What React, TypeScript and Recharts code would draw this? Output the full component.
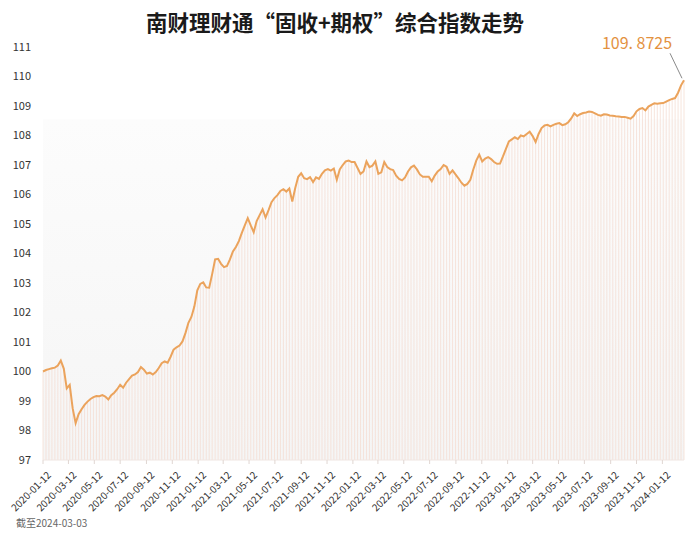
import React from 'react';
import { ComposedChart, Bar, Line, XAxis, YAxis, ReferenceArea } from 'recharts';

const title = '南财理财通“固收+期权”综合指数走势';
const footnote = '截至2024-03-03';
const lastLabel = '109. 8725';

const startDate = '2020-01-12';
const values: number[] = [
  100.00, 100.05, 100.08, 100.11, 100.13, 100.20, 100.37, 100.10, 99.43, 99.55,
  98.75, 98.25, 98.55, 98.72, 98.87, 98.98, 99.07, 99.13, 99.17, 99.16,
  99.20, 99.15, 99.05, 99.20, 99.28, 99.40, 99.55, 99.45, 99.62, 99.74,
  99.86, 99.90, 99.98, 100.15, 100.06, 99.93, 99.96, 99.90, 99.98, 100.12,
  100.28, 100.34, 100.30, 100.50, 100.74, 100.82, 100.88, 101.02, 101.30, 101.65,
  101.85, 102.20, 102.75, 102.97, 103.02, 102.85, 102.84, 103.30, 103.80, 103.82,
  103.65, 103.54, 103.58, 103.80, 104.07, 104.22, 104.42, 104.70, 104.95, 105.20,
  104.95, 104.72, 105.10, 105.30, 105.50, 105.22, 105.47, 105.74, 105.88, 105.98,
  106.12, 106.18, 106.10, 106.20, 105.76, 106.22, 106.60, 106.72, 106.55, 106.52,
  106.59, 106.42, 106.58, 106.53, 106.70, 106.82, 106.86, 106.81, 106.88, 106.50,
  106.85, 107.00, 107.12, 107.15, 107.10, 107.10, 106.90, 106.70, 106.78, 107.12,
  106.93, 106.98, 107.12, 106.70, 106.75, 107.10, 106.93, 106.86, 106.83, 106.64,
  106.53, 106.48, 106.58, 106.78, 106.92, 106.98, 106.85, 106.68, 106.60, 106.60,
  106.60, 106.45, 106.64, 106.78, 106.86, 107.00, 106.94, 106.70, 106.82, 106.68,
  106.55, 106.40, 106.30, 106.36, 106.50, 106.85, 107.15, 107.35, 107.12, 107.22,
  107.27, 107.20, 107.10, 107.04, 107.05, 107.29, 107.55, 107.80, 107.87, 107.94,
  107.88, 108.00, 107.97, 108.05, 108.13, 107.98, 107.78, 108.05, 108.25, 108.34,
  108.36, 108.31, 108.36, 108.40, 108.42, 108.35, 108.38, 108.45, 108.58, 108.75,
  108.66, 108.72, 108.76, 108.78, 108.81, 108.80, 108.75, 108.70, 108.67, 108.72,
  108.71, 108.68, 108.67, 108.65, 108.64, 108.63, 108.63, 108.60, 108.57, 108.66,
  108.82, 108.90, 108.93, 108.85, 108.98, 109.04, 109.09, 109.08, 109.09, 109.10,
  109.15, 109.20, 109.24, 109.27, 109.45, 109.70, 109.8725,
];

const tickLabels: string[] = [
  '2020-01-12', '2020-03-12', '2020-05-12', '2020-07-12', '2020-09-12', '2020-11-12',
  '2021-01-12', '2021-03-12', '2021-05-12', '2021-07-12', '2021-09-12', '2021-11-12',
  '2022-01-12', '2022-03-12', '2022-05-12', '2022-07-12', '2022-09-12', '2022-11-12',
  '2023-01-12', '2023-03-12', '2023-05-12', '2023-07-12', '2023-09-12', '2023-11-12',
  '2024-01-12',
];
const yTicks: number[] = [97, 98, 99, 100, 101, 102, 103, 104, 105, 106, 107, 108, 109, 110, 111];

const DAY = 86400000;
const toTs = (s: string) => {
  const [y, m, d] = s.split('-').map(Number);
  return Date.UTC(y, m - 1, d);
};
const t0 = toTs(startDate);
const data = values.map((v, i) => ({ t: t0 + i * 7 * DAY, v }));
const tEnd = data[data.length - 1].t;
const xTicks = tickLabels.map(toTs);

const fmt = (ts: number) => {
  const d = new Date(ts);
  const p = (n: number) => String(n).padStart(2, '0');
  return `${d.getUTCFullYear()}-${p(d.getUTCMonth() + 1)}-${p(d.getUTCDate())}`;
};

const NUM_FONT = '"Noto Sans CJK SC", "Noto Sans", sans-serif';

const XTick = (props: any) => {
  const { x, y, payload } = props;
  return (
    <g transform={`translate(${x + 2},${y + 3})`}>
      <text
        x={0}
        y={0}
        transform="rotate(-45)"
        textAnchor="end"
        dominantBaseline="hanging"
        fontSize={10}
        fontFamily={NUM_FONT}
        fill="#333"
      >
        {fmt(payload.value)}
      </text>
    </g>
  );
};

const lastIndex = values.length - 1;
const EndLabel = (props: any) => {
  const { x, y, index } = props;
  if (index !== lastIndex) return null;
  return (
    <g>
      <line x1={x - 14} y1={y - 27} x2={x - 2} y2={y - 2} stroke="#8a8a8a" strokeWidth={1} />
      <text
        x={x - 47}
        y={y - 31}
        textAnchor="middle"
        fontSize={16}
        fontFamily={NUM_FONT}
        fill="#E3923F"
      >
        {lastLabel}
      </text>
    </g>
  );
};

export default function App() {
  return (
    <div style={{ position: 'absolute', left: 0, top: 0, width: 700, height: 536, background: '#fff' }}>
      <div
        style={{
          position: 'absolute',
          left: 0,
          top: 8,
          width: 670,
          textAlign: 'center',
          fontFamily: '"Noto Sans CJK SC", sans-serif',
          fontWeight: 700,
          fontSize: 21.5,
          lineHeight: '28px',
          color: '#1a1a1a',
        }}
      >
        {title}
      </div>
      <ComposedChart
        width={700}
        height={536}
        data={data}
        margin={{ top: 47, right: 16, left: 0, bottom: 16 }}
      >
        <defs>
          <linearGradient id="bgGrad" x1="0" y1="0" x2="0" y2="1">
            <stop offset="0%" stopColor="#fcfcfc" />
            <stop offset="100%" stopColor="#f5f5f5" />
          </linearGradient>
        </defs>
        <XAxis
          dataKey="t"
          type="number"
          domain={[t0, tEnd]}
          ticks={xTicks}
          tick={<XTick />}
          height={60}
          axisLine={{ stroke: '#f0e6e2' }}
          tickLine={{ stroke: '#e0d6d2' }}
          tickSize={4}
          interval={0}
        />
        <YAxis
          type="number"
          domain={[97, 111]}
          ticks={yTicks}
          width={43}
          axisLine={false}
          tickLine={false}
          tick={{ fontSize: 11, fill: '#333', fontFamily: NUM_FONT }}
          tickMargin={6}
          interval={0}
        />
        <ReferenceArea x1={t0} x2={tEnd} y1={97} y2={108.55} fill="url(#bgGrad)" fillOpacity={1} stroke="none" ifOverflow="hidden" />
        <Bar dataKey="v" barSize={1} fill="#f4dcd2" fillOpacity={0.75} isAnimationActive={false} />
        <Line
          dataKey="v"
          type="linear"
          stroke="#EBA35C"
          strokeWidth={2}
          dot={false}
          activeDot={false}
          isAnimationActive={false}
          label={<EndLabel />}
        />
      </ComposedChart>
      <div
        style={{
          position: 'absolute',
          left: 16,
          top: 515,
          fontFamily: NUM_FONT,
          fontSize: 10,
          color: '#666',
        }}
      >
        {footnote}
      </div>
    </div>
  );
}
